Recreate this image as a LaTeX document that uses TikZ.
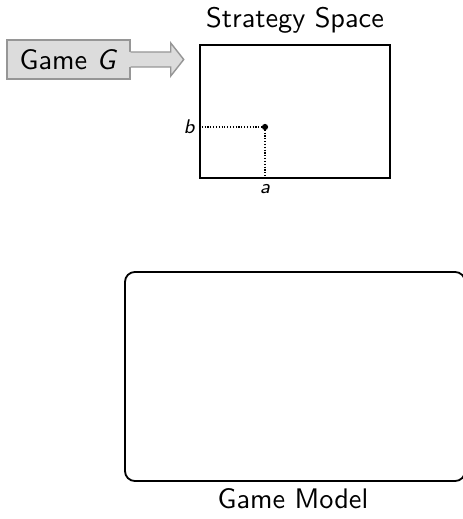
\documentclass[tikz,border=0pt]{standalone}
\usetikzlibrary{calc}
\definecolor{boxfill}{RGB}{220,220,220}
\definecolor{boxline}{RGB}{150,150,150}
\begin{document}
\begin{tikzpicture}[x=0.3535pt,y=-0.3535pt,font=\sffamily,
  inbox/.style={draw=boxline,fill=boxfill,line width=0.5pt,inner sep=0pt,
    minimum width=43.5pt,minimum height=13.8pt},
  spacebox/.style={draw,line width=0.75pt,inner sep=0pt,
    minimum width=67.2pt,minimum height=47pt},
  modelbox/.style={draw,line width=0.65pt,rounded corners=3.5pt,inner sep=0pt,
    minimum width=120.2pt,minimum height=73.9pt},
  coordlabel/.style={font=\sffamily\itshape\scriptsize,inner sep=1pt},
  guide/.style={dash pattern=on 0.4pt off 0.6pt,line width=0.4pt}]
\useasboundingbox (0,0) rectangle (462,519);
% input game
\node[inbox] (game) at (68.5,59.5) {Game \textit{G}\hspace{6pt}};
\begin{scope}[shift={(game.east)}]
  \fill[boxfill] (-1.6,-7.5) -- (40,-7.5) -- (40,-16.5) -- (53,0) -- (40,16.5) -- (40,7.5) -- (-1.6,7.5) -- cycle;
  \draw[boxline,line width=0.5pt,line join=miter] (0,-7.5) -- (40,-7.5) -- (40,-16.5) -- (53,0) -- (40,16.5) -- (40,7.5) -- (0,7.5);
\end{scope}
% strategy space
\node[spacebox] (ss) at (295,111.5) {};
\node[anchor=base] (sslabel) at (295,28) {Strategy Space};
\coordinate (p) at (265,127);
\draw[guide] (ss.west |- p) -- (p);
\draw[guide] (p) -- (p |- ss.south);
\fill (p) circle (1.1pt);
\node[coordlabel,anchor=east] (lb) at ($(ss.west |- p)+(-1,0)$) {b};
\node[coordlabel,anchor=north] (la) at ($(p |- ss.south)+(0,2)$) {a};
% game model
\node[modelbox] (gm) at (295,376.5) {};
\node[anchor=base] (gmlabel) at (293,508) {Game Model};
\end{tikzpicture}
\end{document}
